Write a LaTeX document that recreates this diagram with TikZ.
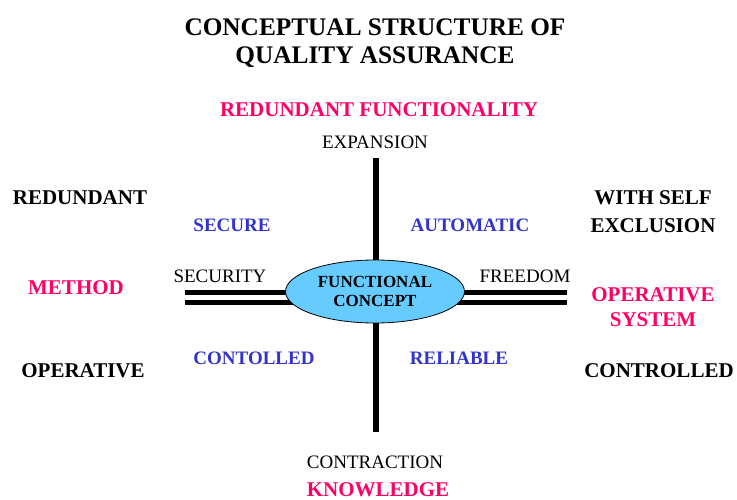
\documentclass[tikz,border=0pt]{standalone}
\usepackage{fontspec}
\setmainfont{Liberation Serif}
\usetikzlibrary{shapes.geometric}
\definecolor{pinkc}{HTML}{FF0066}
\definecolor{bluec}{HTML}{3333CC}
\definecolor{ellc}{HTML}{66CCFF}
\begin{document}
\begin{tikzpicture}[x=1pt,y=-1pt,
  title/.style={font=\fontsize{25.3}{30}\selectfont\bfseries, align=center, inner sep=0},
  big/.style={font=\fontsize{21}{28}\selectfont\bfseries, align=center, inner sep=0},
  bigpink/.style={big, text=pinkc},
  blue/.style={font=\fontsize{19}{22}\selectfont\bfseries, text=bluec, inner sep=0},
  axis/.style={font=\fontsize{19}{22}\selectfont, inner sep=0},
  bar/.style={line width=6pt},
  hbar/.style={line width=5pt}]
\useasboundingbox (0,0) rectangle (737,500);
% title
\node[title] (t1) at (375,27) {CONCEPTUAL STRUCTURE OF};
\node[title] (t2) at (375,57) {QUALITY ASSURANCE};
% axes
\coordinate (vtop) at (376,158);
\coordinate (vbot) at (376,432);
\draw[bar] (vtop) -- (vbot);
\coordinate (l1) at (185,292);
\coordinate (l2) at (185,302.5);
\coordinate (r1) at (567,292);
\coordinate (r2) at (567,302.5);
\coordinate (lm1) at (376,292);
\coordinate (lm2) at (376,302.5);
\draw[hbar] (l1) -- (lm1) -- (r1);
\draw[hbar] (l2) -- (lm2) -- (r2);
\node[ellipse, draw=black, line width=0.8pt, fill=ellc, minimum width=179, minimum height=63, inner sep=0,
      font=\fontsize{17}{19}\selectfont\bfseries, align=center] (fc) at (375,291.5) {FUNCTIONAL\\CONCEPT};
% axis labels
\node[bigpink] (rf) at (379,110) {REDUNDANT FUNCTIONALITY};
\node[axis] (exp) at (375,142) {EXPANSION};
\node[axis] (sec) at (220,276) {SECURITY};
\node[axis] (fre) at (525,276) {FREEDOM};
\node[axis] (con) at (375,462) {CONTRACTION};
\node[bigpink] (kn) at (378,490) {KNOWLEDGE};
% quadrant labels
\node[blue] (secure) at (232,225) {SECURE};
\node[blue] (auto) at (470,225) {AUTOMATIC};
\node[blue] (cont) at (254,358) {CONTOLLED};
\node[blue] (rel) at (459,358) {RELIABLE};
% left side
\node[big] (red) at (80,198) {REDUNDANT};
\node[bigpink] (meth) at (76,288) {METHOD};
\node[big] (oper) at (83,371) {OPERATIVE};
% right side
\node[big] (wse) at (653,212) {WITH SELF\\EXCLUSION};
\node[bigpink, font=\fontsize{21}{25}\selectfont\bfseries] (os) at (653,307.5) {OPERATIVE\\SYSTEM};
\node[big] (ctrl) at (659,371) {CONTROLLED};
\end{tikzpicture}
\end{document}
